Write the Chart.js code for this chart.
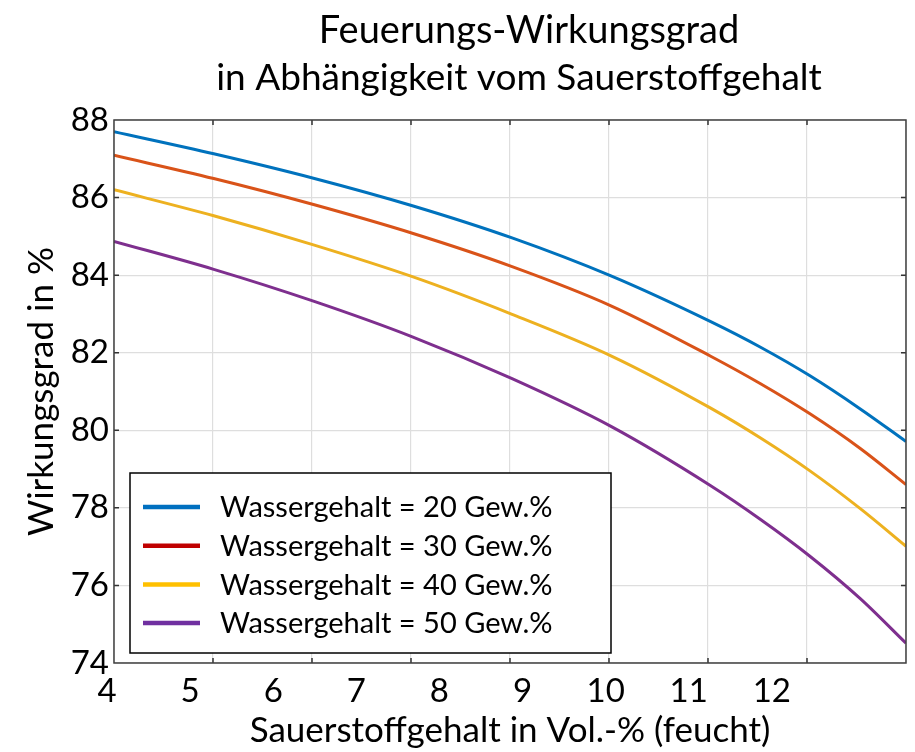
<!DOCTYPE html>
<html>
<head>
<meta charset="utf-8">
<script src="https://cdn.jsdelivr.net/npm/chart.js@4.4.1/dist/chart.umd.min.js"></script>
<style>
  html,body{margin:0;padding:0;background:#fff}
</style>
</head>
<body>
<canvas id="c" width="915" height="752"></canvas>
<script>
// chart data
const TITLE = ['Feuerungs-Wirkungsgrad', 'in Abhängigkeit vom Sauerstoffgehalt']
const X_TITLE = 'Sauerstoffgehalt in Vol.-% (feucht)'
const Y_TITLE = 'Wirkungsgrad in %'
const SERIES = ['Wassergehalt = 20 Gew.%', 'Wassergehalt = 30 Gew.%', 'Wassergehalt = 40 Gew.%', 'Wassergehalt = 50 Gew.%']
const O2  = [4.00, 5.20, 6.40, 7.59, 8.79, 9.98, 11.18, 11.78, 12.37, 12.98, 13.53]
const W20 = [87.70, 87.13, 86.50, 85.79, 84.96, 83.98, 82.80, 82.14, 81.41, 80.55, 79.71]
const W30 = [87.09, 86.49, 85.82, 85.08, 84.22, 83.21, 81.91, 81.20, 80.43, 79.53, 78.60]
const W40 = [86.20, 85.53, 84.78, 83.96, 82.99, 81.92, 80.57, 79.80, 78.96, 77.98, 77.01]
const W50 = [84.87, 84.15, 83.33, 82.41, 81.33, 80.10, 78.57, 77.70, 76.76, 75.66, 74.51]
const X_LABEL_MAX = 12
const X_MIN = 4, X_MAX = 13.53
const Y_MIN = 74, Y_MAX = 88, Y_STEP = 2
const GRID_DIV = 8   // the vertical grid has its own 8 divisions

const LINE_COLORS   = ['#0072BD', '#D95319', '#EDB120', '#7E2F8E']
const LEGEND_COLORS = ['#0070C0', '#C00000', '#FFC000', '#7030A0']
const FONT = 'Lato, "Open Sans", sans-serif'
const gc = '#dedede', box = '#404040'

const pts = ys => O2.map((x, i) => ({x, y: ys[i]}))

const frame = {
  id: 'frame',
  afterDatasetsDraw(chart) {
    const {ctx, chartArea: a} = chart
    // legend box
    const L = a.left + 16, T = a.bottom - 190, W = 481, H = 180
    ctx.save()
    ctx.fillStyle = '#fff'
    ctx.fillRect(L, T, W, H)
    ctx.strokeStyle = '#000'; ctx.lineWidth = 1.5
    ctx.strokeRect(L, T, W, H)
    ctx.font = `29px ${FONT}`
    ctx.textBaseline = 'middle'
    ctx.fillStyle = '#000'
    SERIES.forEach((s, i) => {
      const y = T + 34 + i * 38.7
      ctx.strokeStyle = LEGEND_COLORS[i]; ctx.lineWidth = 4.5
      ctx.beginPath(); ctx.moveTo(L + 13, y); ctx.lineTo(L + 70, y); ctx.stroke()
      ctx.fillText(s, L + 90, y + 1)
    })
    ctx.restore()
  },
  afterDraw(chart) {
    const {ctx, chartArea: a, scales} = chart
    ctx.save()
    ctx.strokeStyle = '#333'; ctx.lineWidth = 1.5
    for (let k = 1; k < GRID_DIV; k++) {
      const x = scales.xg.getPixelForValue(k)
      ctx.beginPath()
      ctx.moveTo(x, a.top); ctx.lineTo(x, a.top + 5)
      ctx.moveTo(x, a.bottom); ctx.lineTo(x, a.bottom - 5)
      ctx.stroke()
    }
    for (let v = Y_MIN + Y_STEP; v < Y_MAX; v += Y_STEP) {
      const y = scales.y.getPixelForValue(v)
      ctx.beginPath()
      ctx.moveTo(a.left, y); ctx.lineTo(a.left + 5, y)
      ctx.moveTo(a.right, y); ctx.lineTo(a.right - 5, y)
      ctx.stroke()
    }
    ctx.strokeStyle = box; ctx.lineWidth = 1.5
    ctx.strokeRect(a.left, a.top, a.right - a.left, a.bottom - a.top)
    // title
    ctx.fillStyle = '#000'
    ctx.textAlign = 'center'; ctx.textBaseline = 'middle'
    const cx = (a.left + a.right) / 2 + 15
    ctx.font = `38px ${FONT}`
    ctx.fillText(TITLE[0], cx + 4, 31)
    ctx.font = `37px ${FONT}`
    ctx.fillText(TITLE[1], cx - 6, 78)
    ctx.restore()
  }
}

new Chart(document.getElementById('c'), {
  type: 'line',
  data: {
    datasets: [W20, W30, W40, W50].map((d, i) => ({
      label: SERIES[i], data: pts(d),
      borderColor: LINE_COLORS[i], borderWidth: 3,
      pointRadius: 0, cubicInterpolationMode: 'monotone', fill: false
    }))
  },
  options: {
    responsive: false, animation: false, devicePixelRatio: 1,
    layout: {padding: {top: 120, right: 7, left: 0, bottom: 0}},
    plugins: {legend: {display: false}, tooltip: {enabled: false}, title: {display: false}},
    scales: {
      x: {
        type: 'linear', min: X_MIN, max: X_MAX,
        grid: {display: false, drawTicks: false}, border: {display: false},
        ticks: {
          stepSize: 1, autoSkip: false, maxRotation: 0, labelOffset: -7, padding: 9,
          color: '#000', font: {family: FONT, size: 33},
          callback: v => (Number.isInteger(v) && v <= X_LABEL_MAX) ? v : ''
        },
        title: {display: true, text: X_TITLE, color: '#000', font: {family: FONT, size: 35}, padding: {top: 0, bottom: 0}},
        afterFit: s => { s.height = 89 }
      },
      xg: {
        type: 'linear', position: 'top', min: 0, max: GRID_DIV,
        ticks: {display: false, stepSize: 1},
        grid: {color: gc, lineWidth: 1.2, drawTicks: false}, border: {display: false},
        afterFit: s => { s.height = 0 }
      },
      y: {
        min: Y_MIN, max: Y_MAX,
        grid: {color: gc, lineWidth: 1.2, drawTicks: false}, border: {display: false},
        ticks: {stepSize: Y_STEP, padding: 5, color: '#000', font: {family: FONT, size: 33}},
        title: {display: true, text: Y_TITLE, color: '#000', font: {family: FONT, size: 35}, padding: {top: 21, bottom: 0}},
        afterFit: s => { s.width = 114 }
      }
    }
  },
  plugins: [frame]
})
</script>
</body>
</html>
